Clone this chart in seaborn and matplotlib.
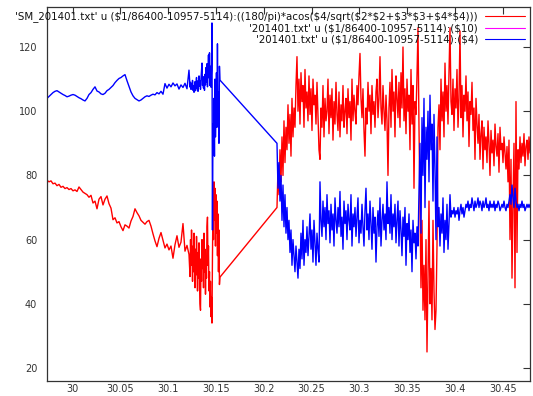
import numpy as np
import pandas as pd
import matplotlib
matplotlib.use("Agg")
import matplotlib.pyplot as plt
import seaborn as sns

# time stamps (days) of the three recorded stretches
t_a1 = (29.9731, 30.1217)
t_a2 = (30.1228, 30.1541)
t_b = (30.2138, 30.4786)

# first stretch, slow part
sm_a1 = [78.5, 78.0, 78.3, 77.4, 77.6, 76.8, 77.2, 76.3, 76.6, 75.9,
         76.2, 75.6, 75.9, 75.2, 75.5, 75.0, 76.4, 75.6, 74.8, 74.4,
         74.0, 73.2, 73.8, 71.4, 72.0, 69.6, 72.6, 73.4, 70.8, 72.6,
         73.6, 71.2, 69.8, 66.2, 66.8, 65.2, 65.6, 64.0, 62.8, 64.6,
         64.2, 63.6, 65.8, 67.2, 69.6, 68.4, 67.4, 66.0, 65.4, 64.8,
         65.6, 66.0, 64.2, 61.8, 59.6, 57.8, 60.4, 62.2, 59.8, 57.4,
         58.6, 56.8, 58.0, 54.2, 58.4, 61.2, 57.6, 59.2, 65.0, 56.4,
         58.2, 55.4]
c4_a1 = [104.0, 104.6, 105.2, 105.8, 106.2, 106.4, 106.0, 105.6, 105.2, 104.9,
         104.5, 104.7, 105.0, 105.2, 105.0, 104.6, 104.2, 103.9, 103.5, 103.2,
         104.0, 105.2, 105.8, 106.8, 107.6, 106.3, 106.0, 105.4, 105.2, 105.6,
         106.4, 106.8, 107.4, 108.0, 108.9, 109.6, 110.2, 110.5, 111.0, 111.4,
         109.5, 107.8, 106.0, 104.8, 104.0, 103.6, 103.2, 103.5, 104.0, 104.5,
         104.8, 104.6, 105.0, 105.3, 105.1, 105.8, 105.4, 106.2, 105.3, 108.6,
         107.2, 108.4, 107.6, 108.8, 107.9, 108.5, 106.9, 108.2, 107.4, 108.7,
         107.0, 112.8]

# first stretch, disturbed end
sm_a2 = [48.5, 60, 52, 63, 55, 47, 58, 50, 62, 53,
         45, 57, 49, 61, 52, 44, 56, 48, 59, 46,
         40, 38, 54, 47, 60, 51, 58, 45, 62, 50,
         57, 43, 55, 48, 64, 67, 52, 58, 44, 50,
         39, 47, 36, 42, 34, 55, 70, 60, 78, 66,
         76, 58, 74, 62, 72, 55, 68, 50, 63, 46,
         48.3]
c4_a2 = [107.5, 109.0, 106.8, 108.4, 107.2, 109.6, 106.5, 108.0, 105.9, 107.6,
         109.2, 106.4, 108.8, 110.5, 107.0, 109.4, 106.2, 108.6, 111.0, 107.8,
         109.5, 106.8, 110.2, 112.6, 115.0, 108.0, 110.8, 107.2, 109.8, 106.5,
         111.5, 108.2, 113.6, 109.0, 114.8, 107.6, 112.0, 117.5, 110.4, 118.2,
         108.0, 114.0, 107.5, 113.0, 127.5, 63.0, 96.0, 88.0, 104.0, 86.0,
         110.0, 92.0, 100.0, 112.0, 95.0, 121.0, 98.0, 106.0, 90.0, 114.0,
         109.7]

# second stretch
sm_b = [70, 82, 74, 88, 78, 92, 80, 97, 84, 95,
        88, 102, 90, 99, 86, 104, 92, 101, 95, 108,
        117, 100, 110, 96, 112, 103, 108, 95, 113, 101,
        106, 97, 111, 99, 107, 94, 110, 102, 105, 96,
        109, 98, 88, 85, 101, 95, 108, 92, 104, 97,
        100, 110, 93, 105, 98, 107, 91, 103, 96, 109,
        99, 94, 106, 92, 102, 97, 108, 95, 100, 104,
        93, 107, 98, 103, 91, 110, 97, 105, 100, 96,
        108, 102, 111, 118, 104, 98, 107, 94, 86, 101,
        96, 109, 100, 105, 93, 108, 99, 103, 95, 106,
        110, 98, 104, 117, 101, 96, 108, 100, 94, 105,
        97, 80, 101, 109, 95, 113, 100, 106, 92, 111,
        104, 98, 109, 95, 112, 101, 120, 97, 107, 93,
        110, 100, 105, 88, 113, 96, 108, 76, 103, 99,
        111, 126, 95, 70, 45, 66, 38, 52, 35, 60,
        25, 48, 72, 40, 51, 35, 66, 44, 32, 38,
        58, 95, 102, 88, 110, 97, 106, 92, 115, 100,
        108, 96, 112, 126, 103, 99, 110, 94, 107, 101,
        113, 95, 104, 125, 98, 108, 92, 105, 100, 111,
        97, 106, 89, 103, 99, 109, 94, 101, 85, 104,
        96, 90, 99, 85, 93, 97, 82, 95, 88, 92,
        84, 97, 90, 80, 94, 87, 91, 83, 96, 89,
        86, 93, 81, 95, 88, 90, 84, 92, 87, 82,
        89, 78, 91, 60, 85, 48, 72, 90, 45, 103,
        56, 88, 82, 92, 84, 90, 86, 93, 83, 89,
        91, 85, 92, 87]
c4_b = [90, 76, 84, 72, 80, 66, 77, 64, 74, 62,
        70, 60, 66, 56, 63, 52, 60, 55, 50, 58,
        53, 48, 57, 51, 62, 54, 66, 52, 60, 56,
        64, 55, 61, 68, 57, 63, 53, 66, 59, 52,
        62, 57, 53, 78, 66, 61, 72, 64, 70, 60,
        74, 65, 69, 59, 71, 63, 68, 58, 73, 66,
        62, 70, 64, 75, 61, 67, 57, 72, 65, 69,
        60, 71, 66, 63, 74, 58, 68, 64, 70, 61,
        67, 73, 59, 66, 62, 71, 64, 58, 69, 76,
        63, 68, 60, 72, 65, 57, 70, 62, 67, 53,
        64, 69, 61, 73, 58, 66, 71, 63, 68, 60,
        78, 65, 70, 62, 74, 60, 68, 64, 71, 59,
        66, 72, 58, 69, 63, 55, 67, 61, 70, 52,
        65, 60, 68, 56, 63, 50, 66, 59, 62, 54,
        64, 58, 75, 90, 62, 98, 80, 104, 70, 95,
        85, 100, 78, 105, 88, 96, 72, 99, 82, 60,
        92, 64, 70, 58, 68, 62, 73, 56, 66, 60,
        71, 57, 65, 74, 67, 69, 68, 70, 67, 69,
        68, 70, 66, 69, 71, 68, 70, 67, 69, 71,
        70, 72, 69, 71, 70, 73, 71, 69, 72, 70,
        71, 73, 70, 72, 71, 69, 72, 70, 71, 73,
        70, 71, 69, 72, 70, 71, 70, 72, 69, 71,
        70, 72, 71, 69, 70, 71, 70, 72, 70, 69,
        71, 70, 72, 74, 71, 77, 73, 70, 76, 72,
        70, 71, 69, 71, 70, 72, 70, 71, 69, 70,
        71, 70, 71, 70]

x_ticks = [30, 30.05, 30.1, 30.15, 30.2, 30.25, 30.3, 30.35, 30.4, 30.45]
x_ticklabels = ["30", "30.05", "30.1", "30.15", "30.2", "30.25", "30.3", "30.35", "30.4", "30.45"]
y_ticks = [20, 40, 60, 80, 100, 120]

labels = ["'SM_201401.txt' u ($1/86400-10957-5114):((180/pi)*acos($4/sqrt($2*$2+$3*$3+$4*$4)))",
          "'201401.txt' u ($1/86400-10957-5114):($10)",
          "'201401.txt' u ($1/86400-10957-5114):($4)"]
# no mathtext: dollar signs are literal
labels = [s.replace("$", r"\$") for s in labels]

t = np.concatenate([np.linspace(*t_a1, len(sm_a1)),
                    np.linspace(*t_a2, len(sm_a2)),
                    np.linspace(*t_b, len(sm_b))])
df = pd.DataFrame({"t": t,
                   "sm": sm_a1 + sm_a2 + sm_b,
                   "c4": c4_a1 + c4_a2 + c4_b})

sns.set_theme(style="white")
plt.rcParams["font.family"] = ["DejaVu Sans"]

fig, ax = plt.subplots(figsize=(5.33, 3.96), dpi=100)
fig.subplots_adjust(left=47/533, right=530/533, bottom=1-381/396, top=1-7/396)

sns.lineplot(data=df, x="t", y="sm", ax=ax, color="#ff0000", lw=1.0,
             sort=False, estimator=None, label=labels[0])
ax.plot([], [], color="#ff00ff", lw=0.8, label=labels[1])
sns.lineplot(data=df, x="t", y="c4", ax=ax, color="#0000ff", lw=1.0,
             sort=False, estimator=None, label=labels[2])

ax.set_xlim(29.9731, 30.4786)
ax.set_ylim(15.95, 132.47)
ax.set_xticks(x_ticks)
ax.set_xticklabels(x_ticklabels)
ax.set_yticks(y_ticks)
ax.set_xlabel("")
ax.set_ylabel("")
ax.tick_params(direction="in", top=True, right=True, length=5, width=0.8,
               labelsize=7.0, colors="#333333")
ax.tick_params(axis="x", pad=2.5)
ax.tick_params(axis="y", pad=7)
for s in ax.spines.values():
    s.set_color("#333333")
    s.set_linewidth(0.9)

leg = ax.legend(loc="upper right", bbox_to_anchor=(1 - 5/483, 1 - 4.5/374),
                frameon=False, markerfirst=False, fontsize=7.35,
                handlelength=3.9, handletextpad=0.7, labelspacing=0.12,
                borderpad=0, borderaxespad=0)
for txt in leg.get_texts():
    txt.set_color("#111111")
for ln in leg.get_lines():
    ln.set_linewidth(0.8)

fig.savefig("out.png", dpi=100)
